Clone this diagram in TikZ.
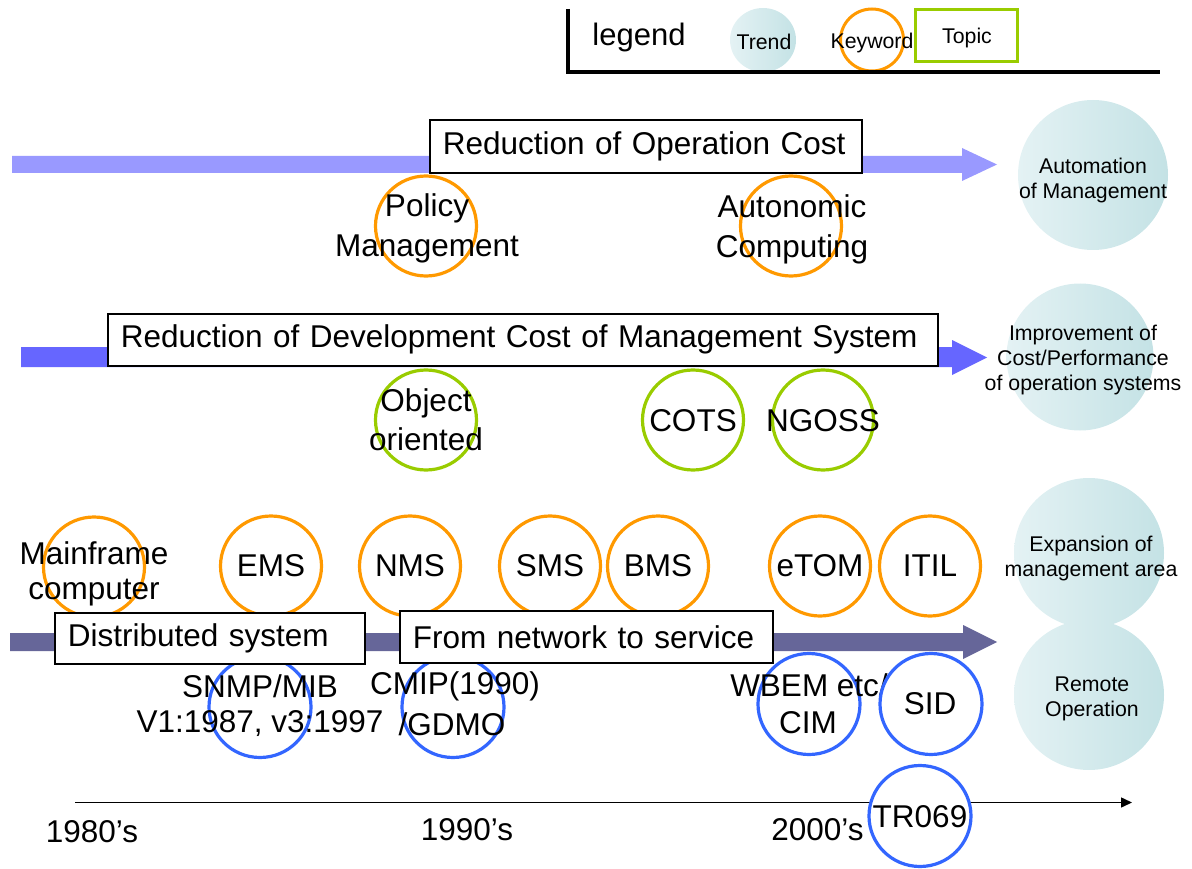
\documentclass[tikz,border=0pt]{standalone}
\usepackage{fontspec}
\setmainfont{Liberation Sans}
\usetikzlibrary{shapes.geometric,arrows.meta}
\definecolor{kwOrange}{HTML}{FF9900}
\definecolor{tpGreen}{HTML}{99CC00}
\definecolor{stdBlue}{HTML}{3366FF}
\definecolor{trendA}{HTML}{E4F2F4}
\definecolor{trendB}{HTML}{C4E2E5}
\definecolor{flowA}{HTML}{9999FF}
\definecolor{flowB}{HTML}{6666FF}
\definecolor{flowC}{HTML}{666699}
\begin{document}
\begin{tikzpicture}[x=1pt,y=-1pt,
  ring/.style={ellipse,inner sep=0pt,line width=3.2pt,minimum width=101pt,minimum height=100pt},
  keyword/.style={ring,draw=kwOrange},
  topic/.style={ring,draw=tpGreen},
  standard/.style={ring,draw=stdBlue,minimum width=102pt,minimum height=101pt},
  trend/.style={ellipse,inner sep=0pt,minimum size=150pt,left color=trendA,right color=trendB},
  big/.style={font=\fontsize{31.5}{39.5}\selectfont,align=center,inner sep=0pt},
  small/.style={font=\fontsize{21.3}{25}\selectfont,align=center,inner sep=0pt},
  banner/.style={draw,line width=1.7pt,fill=white,anchor=north west,inner xsep=13pt,inner ysep=0pt,
    align=left,font=\fontsize{31.5}{39}\selectfont},
]
\useasboundingbox (0,0) rectangle (1192,869);

% legend frame
\coordinate (lgTop) at (568,9);
\coordinate (lgCorner) at (568,72);
\coordinate (lgEnd) at (1160,72);
\node[ellipse,inner sep=0pt,minimum width=66pt,minimum height=64pt,left color=trendA,right color=trendB] (lgTrend) at (763,40) {};
\node[ellipse,inner sep=0pt,draw=kwOrange,line width=3pt,minimum width=63pt,minimum height=62pt] (lgKey) at (872,40) {};
\node[draw=tpGreen,line width=3.5pt,minimum width=102pt,minimum height=52pt,inner sep=0pt] (lgTopic) at (966.5,35.5) {};
\draw[line width=3.3pt] (lgTop) -- (lgCorner) -- (lgEnd);
\node[font=\fontsize{31}{36}\selectfont,inner sep=0pt] (lgTitle) at (639,37) {legend};
\node[small] (lgTrendT) at (764,42) {Trend};
\node[small] (lgKeyT) at (872,43) {Keyword};
\node[small] (lgTopicT) at (967,38) {Topic};

% trend arrows
\fill[flowA] (12,156) -- (962,156) -- (962,148) -- (997,164.5) -- (962,181) -- (962,173) -- (12,173) -- cycle;
\fill[flowB] (21,347) -- (952,347) -- (952,340) -- (987,357.5) -- (952,375) -- (952,367) -- (21,367) -- cycle;
\fill[flowC] (10,633) -- (963,633) -- (963,625) -- (997,642) -- (963,659) -- (963,651) -- (10,651) -- cycle;

% trend circles
\node[trend] (tAuto) at (1093,175) {};
\node[trend,minimum size=147pt] (tCost) at (1080,357) {};
\node[trend] (tArea) at (1089,553) {};
\node[trend] (tRemote) at (1089,695) {};

% keyword and topic circles
\node[keyword] (cPolicy) at (426,226) {};
\node[keyword] (cAuto) at (791,226) {};
\node[topic] (cObj) at (426,420) {};
\node[topic] (cCots) at (693,420) {};
\node[topic] (cNgoss) at (823,420) {};
\node[keyword] (cMain) at (94,567) {};
\node[keyword] (cEms) at (271,566) {};
\node[keyword] (cNms) at (410,566) {};
\node[keyword] (cSms) at (550,566) {};
\node[keyword] (cBms) at (658,566) {};
\node[keyword] (cEtom) at (820,566) {};
\node[keyword] (cItil) at (930,566) {};

% standards
\node[standard] (cSnmp) at (260,707) {};
\node[standard] (cCmip) at (453,707) {};
\node[standard] (cCim) at (809,704) {};
\node[big] (lWbem) at (809,685) {WBEM etc/};
\node[standard,fill=white] (cSid) at (931,704) {};

% topic banners
\node[banner,minimum height=53pt,text width=406pt] (bOp) at (429,119) {Reduction of Operation Cost};
\node[banner,minimum height=52pt,text width=804pt] (bDev) at (107,313) {Reduction of Development Cost of Management System};
\node[banner,minimum height=51pt,text width=284pt] (bDist) at (54,612) {Distributed system};
\node[banner,minimum height=52pt,text width=347pt] (bServ) at (399,610) {From network to service};

% time axis
\coordinate (tlStart) at (75,802.5);
\coordinate (tlEnd) at (1132,802.5);
\draw[line width=1.5pt,-{Triangle[length=11pt,width=10pt]}] (tlStart) -- (tlEnd);
\node[standard,fill=white] (cTr) at (920,816) {};

% labels
\node[big] (lPolicy) at (427,228.5) {Policy\\Management};
\node[big] (lAuto) at (792,229.5) {Autonomic\\Computing};
\node[big,font=\fontsize{31.5}{38.5}\selectfont] (lObj) at (426,419.5) {Object\\oriented};
\node[big] (lCots) at (693,421) {COTS};
\node[big] (lNgoss) at (823,421) {NGOSS};
\node[big,font=\fontsize{31.5}{35.5}\selectfont] (lMain) at (94,574) {Mainframe\\computer};
\node[big] (lEms) at (271,566) {EMS};
\node[big] (lNms) at (410,566) {NMS};
\node[big] (lSms) at (550,566) {SMS};
\node[big] (lBms) at (658,566) {BMS};
\node[big] (lEtom) at (820,566) {eTOM};
\node[big] (lItil) at (930,566) {ITIL};
\node[big] (lSnmp) at (260,686) {SNMP/MIB};
\node[big] (lSnmpV) at (260,724) {V1:1987, v3:1997};
\node[big] (lCmip) at (455,686) {CMIP(1990)};
\node[big] (lGdmo) at (452,724) {/GDMO};
\node[big] (lCim) at (808,723) {CIM};
\node[big] (lSid) at (930,704) {SID};
\node[big] (lTr) at (920,816.5) {TR069};
\node[big] (y80) at (92,832) {1980’s};
\node[big] (y90) at (467,830) {1990’s};
\node[big] (y00) at (817.5,830) {2000’s};

\node[small] (lTAuto) at (1093,180) {Automation\\of Management};
\node[small] (lTCost) at (1083,360) {Improvement of\\Cost/Performance\\of operation systems};
\node[small] (lTArea) at (1091,558) {Expansion of\\management area};
\node[small] (lTRemote) at (1092,699) {Remote\\Operation};
\end{tikzpicture}
\end{document}
